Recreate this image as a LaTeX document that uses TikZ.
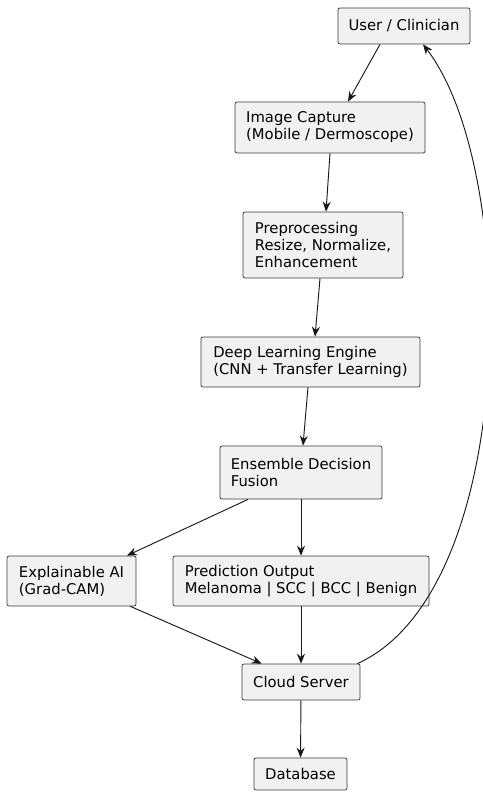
\documentclass[tikz,border=0pt]{standalone}
\usepackage{fontspec}
\setmainfont{DejaVu Sans}
\usepackage{tikz}
\usetikzlibrary{arrows.meta, positioning}
\definecolor{boxfill}{HTML}{F1F1F1}
\definecolor{boxline}{HTML}{181818}
\tikzstyle{block} = [rectangle, rounded corners=1.5pt, align=left, draw=boxline!85, fill=boxfill, line width=0.55pt, inner sep=0pt, font=\fontsize{11.1}{12.8}\selectfont]
\tikzstyle{arrow} = [-{Stealth[length=7.5pt, width=6pt, inset=2.5pt]}, draw=boxline, line width=0.7pt]

\begin{document}
\begin{tikzpicture}[x=0.75pt, y=-0.75pt]

    \useasboundingbox (0, 0) rectangle (482, 792);

    \node (user) [block, minimum width=99pt, minimum height=27pt] at (404, 26) {User / Clinician};
    \node (capture) [block, minimum width=142.5pt, minimum height=38.25pt] at (330, 127.5) {Image Capture\\(Mobile / Dermoscope)};
    \node (prep) [block, minimum width=120pt, minimum height=49.5pt] at (323, 245) {Preprocessing\\Resize, Normalize,\\Enhancement};
    \node (dl) [block, minimum width=164.25pt, minimum height=37.5pt] at (310.5, 362) {Deep Learning Engine\\(CNN + Transfer Learning)};
    \node (ens) [block, minimum width=121.5pt, minimum height=39.75pt] at (301, 472.5) {Ensemble Decision\\Fusion};
    \node (xai) [block, minimum width=96.75pt, minimum height=37.5pt] at (71.5, 581) {Explainable AI\\(Grad-CAM)};
    \node (pred) [block, minimum width=192pt, minimum height=37.5pt] at (301, 581) {Prediction Output\\Melanoma | SCC | BCC | Benign};
    \node (cloud) [block, minimum width=88.5pt, minimum height=27pt] at (301, 682) {Cloud Server};
    \node (db) [block, minimum width=69.75pt, minimum height=24pt] at (300.5, 774) {Database};

    \draw [arrow] ([xshift=-18pt]user.south) -- ([xshift=13.5pt]capture.north);
    \draw [arrow] (capture.south) -- ([xshift=2.25pt]prep.north);
    \draw [arrow] ([xshift=-2.25pt]prep.south) -- ([xshift=3.4pt]dl.north);
    \draw [arrow] ([xshift=-1.9pt]dl.south) -- ([xshift=1.5pt]ens.north);
    \draw [arrow] ([xshift=-39.75pt]ens.south) -- ([xshift=41.6pt]xai.north);
    \draw [arrow] (ens) -- (pred);
    \draw [arrow] ([xshift=-4.5pt]xai.south east) -- ([xshift=15pt]cloud.north west);
    \draw [arrow] (pred) -- (cloud);
    \draw [arrow] (cloud) -- (db);
    \draw [arrow] ([xshift=-2.25pt]cloud.north east) .. controls (520, 590) and (520, 170) .. ([xshift=14.25pt]user.south);

\end{tikzpicture}
\end{document}
